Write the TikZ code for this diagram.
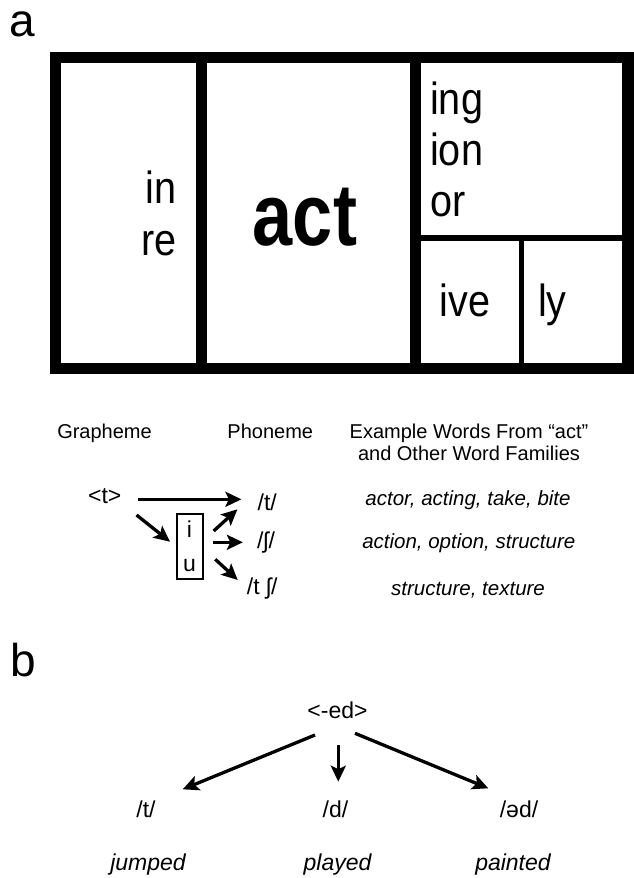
\documentclass[tikz,border=0pt]{standalone}
\usepackage{fontspec}
\setmainfont{Liberation Sans}
\newfontfamily\actfont{Liberation Sans Bold}[FakeStretch=0.82]
\newfontfamily\partfont{Liberation Sans}[FakeStretch=0.88]
\usetikzlibrary{arrows.meta,calc}
\tikzset{px/.style={x=1pt,y=-1pt}}
\tikzset{wall/.style={line width=11.5pt},
         midwall/.style={line width=10.7pt},
         thinwall/.style={line width=5.2pt},
         arr/.style={-{Stealth[length=16pt,width=15pt,inset=3.5pt]},line width=3.3pt}}
\tikzset{txt/.style={inner sep=0pt,anchor=base,font=\fontsize{20}{22}\selectfont},
         ital/.style={txt,font=\fontsize{20.5}{22}\selectfont\itshape},
         big/.style={txt,font=\fontsize{23}{26}\selectfont},
         bigital/.style={txt,font=\fontsize{23}{26}\selectfont\itshape},
         part/.style={inner sep=0pt,font=\fontsize{45}{51.3}\partfont},
         panel/.style={inner sep=0pt,anchor=base,font=\fontsize{46}{50}\selectfont}}

\begin{document}
\begin{tikzpicture}[px]
  \useasboundingbox (0,0) rectangle (633,878);
  % panel a: word matrix
  \node[panel] (la) at (22,36.7) {a};
  \draw[wall] (55.7,57.5) rectangle (627.8,368.5);
  \draw[wall] (201.5,57.5) -- (201.5,368.5);
  \draw[midwall] (415.3,57.5) -- (415.3,368.5);
  \draw[thinwall] (415.3,238) -- (627.8,238);
  \draw[thinwall] (521.8,238) -- (521.8,368.5);
  \node[part,anchor=base east,align=right] (pre) at (177,255) {in\\re};   % base = last line
  \node[inner sep=0pt,anchor=base,font=\fontsize{88}{90}\actfont] (base) at (305,245) {act};
  \node[part,anchor=base west,align=left] (suf) at (430,216.7) {ing\\ion\\or};
  \node[part,anchor=base] (ive) at (465,316.7) {ive};
  \node[part,anchor=base] (ly) at (552.5,316.7) {ly};

  % grapheme -> phoneme
  \node[txt] (hg) at (104.5,438) {Grapheme};
  \node[txt] (hp) at (270.3,438) {Phoneme};
  \node[txt,align=center] (hw) at (469,460) {Example Words From “act”\\and Other Word Families};
  \node[big] (gt) at (104.7,503) {<t>};
  \node[draw,line width=2pt,minimum width=26pt,minimum height=65pt,inner sep=0pt,
        font=\fontsize{23}{34}\selectfont,align=center] (iu) at (189.5,546) {i\\u};
  \node[big] (pt) at (267.2,510) {/t/};
  \node[big] (psh) at (266,548.3) {/ʃ/};
  \node[big] (ptsh) at (262.3,594) {/t ʃ/};
  \node[ital] (w1) at (468,505) {actor, acting, take, bite};
  \node[ital] (w2) at (468.8,548) {action, option, structure};
  \node[ital] (w3) at (468,595) {structure, texture};
  \draw[arr] ($(gt.base east)+(16.7,-3.7)$) -- ($(pt.base west)+(-16,-10.7)$);
  \draw[arr] ($(gt.base east)+(15,12)$) -- ($(iu.west)+(-5.5,-4.3)$);
  \draw[arr] ($(iu.east)+(10.2,-15)$) -- ($(pt.base west)+(-20,-0.7)$);
  \draw[arr] ($(iu.east)+(9.2,-3.7)$) -- ($(psh.base west)+(-14,-6)$);
  \draw[arr] ($(iu.east)+(11.8,13.3)$) -- ($(ptsh.base west)+(-9,-14)$);

  % panel b: -ed
  \node[panel] (lb) at (23,676) {b};
  \node[big] (ed) at (337.5,718) {<-ed>};
  \node[big] (bt) at (146,817) {/t/};
  \node[big] (bd) at (335.5,817) {/d/};
  \node[big] (bed) at (519,817) {/əd/};
  \node[bigital] (jumped) at (148,870) {jumped};
  \node[bigital] (played) at (337.5,870) {played};
  \node[bigital] (painted) at (513,870) {painted};
  \draw[arr] ($(ed.base)+(-22.5,17)$) -- ($(bt.base)+(36.7,-27.7)$);
  \draw[arr] ($(ed.base)+(0.8,27)$) -- ($(bd.base)+(2.8,-35.3)$);
  \draw[arr] ($(ed.base)+(17.5,15.3)$) -- ($(bed.base)+(-30.7,-28.7)$);
\end{tikzpicture}
\end{document}
